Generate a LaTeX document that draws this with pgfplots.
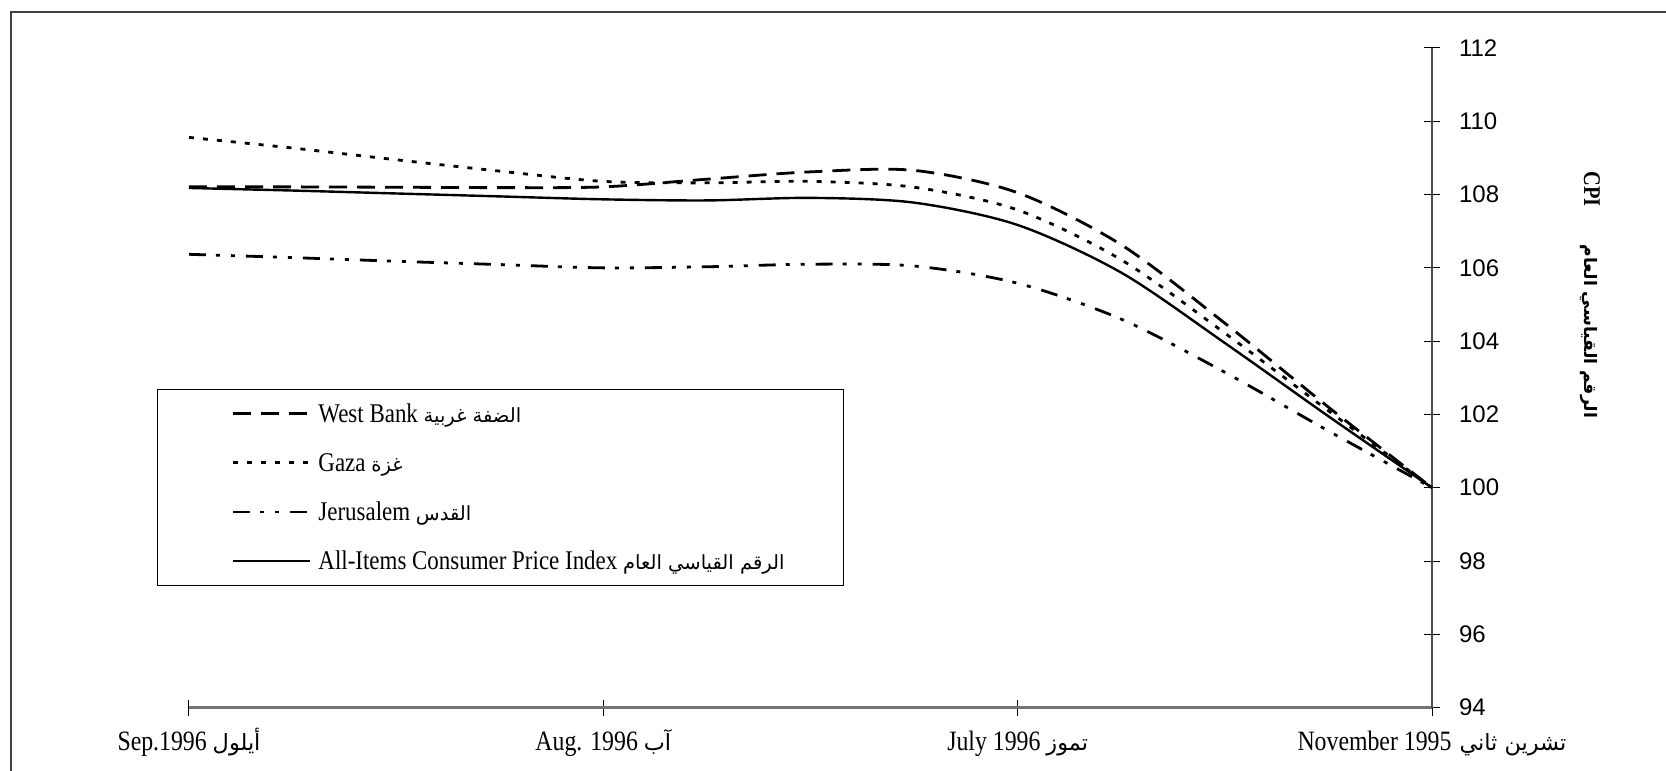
\documentclass[border=0pt]{standalone}
\usepackage{fontspec}
\setmainfont{Liberation Serif}[FakeStretch=0.85]
\setsansfont{Liberation Sans}
\newfontfamily\arabicfont[Script=Arabic,Scale=0.8]{DejaVu Sans}
\TeXXeTstate=1
\usepackage{pgfplots}
\pgfplotsset{compat=1.18}
\usepackage{pgfplotstable}

\pgfplotstableread{
t wb gz jr all
0    108.21 109.56 106.37 108.18
0.25 108.21 109.27 106.28 108.11
0.5  108.20 108.95 106.18 108.03
0.75 108.19 108.64 106.09 107.95
1    108.21 108.36 106.00 107.87
1.25 108.42 108.32 106.03 107.84
1.5  108.62 108.36 106.10 107.91
1.75 108.66 108.20 106.05 107.78
2    108.05 107.58 105.58 107.17
2.25 106.63 106.22 104.60 105.87
2.5  104.49 104.22 103.15 103.95
2.75 102.20 102.10 101.55 101.95
3    100.00 100.00 100.00 100.00
}\cpidata

\newcommand{\legar}[1]{{\fontsize{12.2}{16}\arabicfont\beginR #1\endR}}

\begin{document}
\begin{tikzpicture}
\useasboundingbox (0,0) rectangle (833pt,385.5pt);
\draw[line width=1pt, black!75] (5.5pt,-20pt) -- (5.5pt,379.5pt) -- (850pt,379.5pt);
\begin{axis}[
  at={(94.5pt,31.7pt)}, anchor=south west,
  scale only axis, width=621.5pt, height=329.8pt,
  xmin=0, xmax=3, ymin=94, ymax=112,
  axis x line=bottom, axis y line=right,
  axis line style={-, line width=0.9pt, black!70},
  x axis line style={black!55, line width=1.2pt},
  xtick={0,1,2,3},
  xticklabels={
    {Sep.1996 {\arabicfont\beginR أيلول\endR}},
    {Aug. 1996 {\arabicfont\beginR آب\endR}},
    {July 1996 {\arabicfont\beginR تموز\endR}},
    {November 1995\hspace{4pt}{\arabicfont\beginR تشرين ثاني\endR}}
  },
  ytick={94,96,...,112},
  tick align=center, major tick length=8pt,
  tick style={black, line width=0.5pt},
  /pgf/number format/assume math mode=true,
  yticklabel style={font=\fontsize{12}{14}\sffamily, anchor=west, xshift=6pt},
  xticklabel style={font=\fontsize{14}{16}\selectfont, anchor=base, yshift=-17.6pt},
  clip=false,
  legend cell align=left,
  legend image code/.code={\draw[#1] (0pt,0pt) -- (38.5pt,0pt);},
  legend style={draw=black, line width=0.6pt, at={(-0.0257,0.483)}, anchor=north west,
    inner xsep=37pt, inner ysep=6pt, row sep=12.6pt,
    font=\fontsize{13.5}{16}\selectfont,
    nodes={inner sep=0pt, text height=10.3pt, text depth=1.7pt}},
]
\addplot[black, line width=1.4pt, dash pattern=on 9pt off 5pt, smooth] table[x=t, y=wb] {\cpidata};
\addlegendentry{\makebox[229pt][l]{\hspace{3.5pt}West Bank \legar{الضفة غربية}}}
\addplot[black, line width=1.4pt, dash pattern=on 2.5pt off 4.5pt, smooth] table[x=t, y=gz] {\cpidata};
\addlegendentry{\makebox[229pt][l]{\hspace{3.5pt}Gaza \legar{غزة}}}
\addplot[black, line width=1.4pt, dash pattern=on 8.5pt off 5pt on 2pt off 5.5pt on 2pt off 5.5pt, smooth] table[x=t, y=jr] {\cpidata};
\addlegendentry{\makebox[229pt][l]{\hspace{3.5pt}Jerusalem \legar{القدس}}}
\addplot[black, line width=1.2pt, smooth] table[x=t, y=all] {\cpidata};
\addlegendentry{\makebox[229pt][l]{\hspace{3.5pt}All-Items Consumer Price Index \legar{الرقم القياسي العام}}}
\end{axis}
\node[rotate=-90, font=\fontsize{12}{14}\selectfont\bfseries] at (795pt,238pt)
  {CPI\hspace{19pt}{\fontsize{10.75}{14}\arabicfont\bfseries\beginR الرقم القياسي العام\endR}};
\end{tikzpicture}
\end{document}
